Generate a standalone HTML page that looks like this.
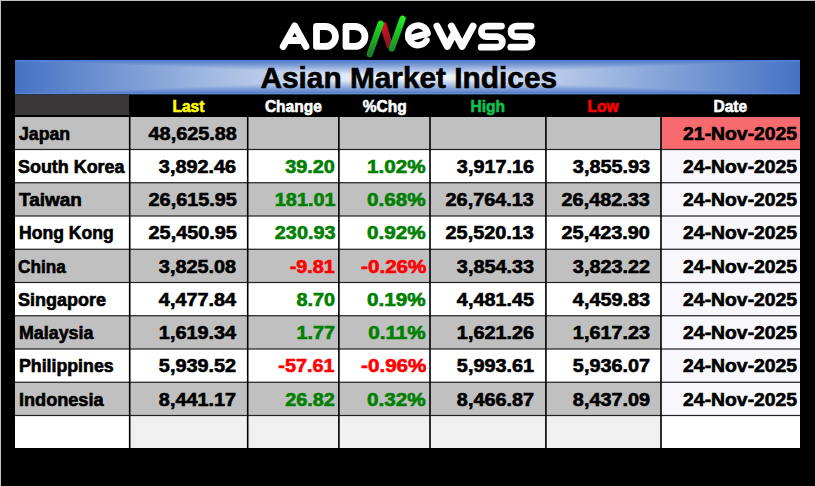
<!DOCTYPE html>
<html><head><meta charset="utf-8">
<style>
html,body{margin:0;padding:0;}
body{width:815px;height:486px;background:#000;position:relative;overflow:hidden;font-family:"Liberation Sans",sans-serif;font-weight:bold;}
svg{position:absolute;left:0;top:0;}
.t{position:absolute;white-space:nowrap;line-height:1;-webkit-text-stroke:0.6px currentColor;}
.ctr{text-align:center;}
.edge-t{position:absolute;left:0;top:0;width:815px;height:1px;background:#c0c0c0;}
.edge-l{position:absolute;left:0;top:0;width:1px;height:486px;background:#c0c0c0;}
</style></head>
<body>
<svg width="815" height="486" viewBox="0 0 815 486">
<defs>
<linearGradient id="gh" x1="15" y1="0" x2="800" y2="0" gradientUnits="userSpaceOnUse"><stop offset="0" stop-color="#4472c4"/><stop offset="0.5" stop-color="#ffffff"/><stop offset="1" stop-color="#4472c4"/></linearGradient>
<linearGradient id="gl" x1="15" y1="0" x2="407.5" y2="0" gradientUnits="userSpaceOnUse"><stop offset="0" stop-color="#4472c4"/><stop offset="1" stop-color="#ffffff"/></linearGradient>
<linearGradient id="gr" x1="800" y1="0" x2="407.5" y2="0" gradientUnits="userSpaceOnUse"><stop offset="0" stop-color="#4472c4"/><stop offset="1" stop-color="#ffffff"/></linearGradient>
<linearGradient id="gt" x1="0" y1="60" x2="0" y2="77.25" gradientUnits="userSpaceOnUse"><stop offset="0" stop-color="#4472c4"/><stop offset="1" stop-color="#ffffff"/></linearGradient>
<linearGradient id="gb" x1="0" y1="94.5" x2="0" y2="77.25" gradientUnits="userSpaceOnUse"><stop offset="0" stop-color="#4472c4"/><stop offset="1" stop-color="#ffffff"/></linearGradient>
<linearGradient id="ng" x1="0" y1="17" x2="0" y2="56" gradientUnits="userSpaceOnUse"><stop offset="0" stop-color="#22ee22"/><stop offset="1" stop-color="#1a7a2a"/></linearGradient>
<linearGradient id="nr" x1="0" y1="22" x2="0" y2="50" gradientUnits="userSpaceOnUse"><stop offset="0" stop-color="#e8102a"/><stop offset="1" stop-color="#6a1a20"/></linearGradient>
</defs>
<rect x="15" y="60" width="785" height="34.5" fill="url(#gh)"/>
<polygon points="15,60 800,60 407.5,77.25" fill="url(#gt)"/>
<polygon points="15,94.5 800,94.5 407.5,77.25" fill="url(#gb)"/>
<rect x="15" y="60.6" width="785" height="0.9" fill="#6a9af0" opacity="0.55"/>
<rect x="15" y="92.9" width="785" height="0.9" fill="#6a9af0" opacity="0.55"/>
<rect x="15" y="94.5" width="785" height="22.5" fill="#000"/>
<rect x="15" y="94.5" width="114.1" height="20.5" fill="#3a3838"/>
<rect x="15" y="117.0" width="114.69999999999999" height="32.5" fill="#c0c0c0"/>
<rect x="129.7" y="117.0" width="118.0" height="32.5" fill="#c0c0c0"/>
<rect x="247.7" y="117.0" width="91.19999999999999" height="32.5" fill="#c0c0c0"/>
<rect x="338.9" y="117.0" width="91.10000000000002" height="32.5" fill="#c0c0c0"/>
<rect x="430.0" y="117.0" width="115.89999999999998" height="32.5" fill="#c0c0c0"/>
<rect x="545.9" y="117.0" width="115.10000000000002" height="32.5" fill="#c0c0c0"/>
<rect x="661.0" y="117.0" width="139.0" height="32.5" fill="#f76b6f"/>
<rect x="15" y="149.5" width="114.69999999999999" height="33.25" fill="#ffffff"/>
<rect x="129.7" y="149.5" width="118.0" height="33.25" fill="#ffffff"/>
<rect x="247.7" y="149.5" width="91.19999999999999" height="33.25" fill="#ffffff"/>
<rect x="338.9" y="149.5" width="91.10000000000002" height="33.25" fill="#ffffff"/>
<rect x="430.0" y="149.5" width="115.89999999999998" height="33.25" fill="#ffffff"/>
<rect x="545.9" y="149.5" width="115.10000000000002" height="33.25" fill="#ffffff"/>
<rect x="661.0" y="149.5" width="139.0" height="33.25" fill="#f8f8fc"/>
<rect x="15" y="182.75" width="114.69999999999999" height="33.25" fill="#c0c0c0"/>
<rect x="129.7" y="182.75" width="118.0" height="33.25" fill="#c0c0c0"/>
<rect x="247.7" y="182.75" width="91.19999999999999" height="33.25" fill="#c0c0c0"/>
<rect x="338.9" y="182.75" width="91.10000000000002" height="33.25" fill="#c0c0c0"/>
<rect x="430.0" y="182.75" width="115.89999999999998" height="33.25" fill="#c0c0c0"/>
<rect x="545.9" y="182.75" width="115.10000000000002" height="33.25" fill="#c0c0c0"/>
<rect x="661.0" y="182.75" width="139.0" height="33.25" fill="#f8f8fc"/>
<rect x="15" y="216.0" width="114.69999999999999" height="33.25" fill="#ffffff"/>
<rect x="129.7" y="216.0" width="118.0" height="33.25" fill="#ffffff"/>
<rect x="247.7" y="216.0" width="91.19999999999999" height="33.25" fill="#ffffff"/>
<rect x="338.9" y="216.0" width="91.10000000000002" height="33.25" fill="#ffffff"/>
<rect x="430.0" y="216.0" width="115.89999999999998" height="33.25" fill="#ffffff"/>
<rect x="545.9" y="216.0" width="115.10000000000002" height="33.25" fill="#ffffff"/>
<rect x="661.0" y="216.0" width="139.0" height="33.25" fill="#f8f8fc"/>
<rect x="15" y="249.25" width="114.69999999999999" height="33.25" fill="#c0c0c0"/>
<rect x="129.7" y="249.25" width="118.0" height="33.25" fill="#c0c0c0"/>
<rect x="247.7" y="249.25" width="91.19999999999999" height="33.25" fill="#c0c0c0"/>
<rect x="338.9" y="249.25" width="91.10000000000002" height="33.25" fill="#c0c0c0"/>
<rect x="430.0" y="249.25" width="115.89999999999998" height="33.25" fill="#c0c0c0"/>
<rect x="545.9" y="249.25" width="115.10000000000002" height="33.25" fill="#c0c0c0"/>
<rect x="661.0" y="249.25" width="139.0" height="33.25" fill="#f8f8fc"/>
<rect x="15" y="282.5" width="114.69999999999999" height="33.25" fill="#ffffff"/>
<rect x="129.7" y="282.5" width="118.0" height="33.25" fill="#ffffff"/>
<rect x="247.7" y="282.5" width="91.19999999999999" height="33.25" fill="#ffffff"/>
<rect x="338.9" y="282.5" width="91.10000000000002" height="33.25" fill="#ffffff"/>
<rect x="430.0" y="282.5" width="115.89999999999998" height="33.25" fill="#ffffff"/>
<rect x="545.9" y="282.5" width="115.10000000000002" height="33.25" fill="#ffffff"/>
<rect x="661.0" y="282.5" width="139.0" height="33.25" fill="#f8f8fc"/>
<rect x="15" y="315.75" width="114.69999999999999" height="33.25" fill="#c0c0c0"/>
<rect x="129.7" y="315.75" width="118.0" height="33.25" fill="#c0c0c0"/>
<rect x="247.7" y="315.75" width="91.19999999999999" height="33.25" fill="#c0c0c0"/>
<rect x="338.9" y="315.75" width="91.10000000000002" height="33.25" fill="#c0c0c0"/>
<rect x="430.0" y="315.75" width="115.89999999999998" height="33.25" fill="#c0c0c0"/>
<rect x="545.9" y="315.75" width="115.10000000000002" height="33.25" fill="#c0c0c0"/>
<rect x="661.0" y="315.75" width="139.0" height="33.25" fill="#f8f8fc"/>
<rect x="15" y="349.0" width="114.69999999999999" height="33.25" fill="#ffffff"/>
<rect x="129.7" y="349.0" width="118.0" height="33.25" fill="#ffffff"/>
<rect x="247.7" y="349.0" width="91.19999999999999" height="33.25" fill="#ffffff"/>
<rect x="338.9" y="349.0" width="91.10000000000002" height="33.25" fill="#ffffff"/>
<rect x="430.0" y="349.0" width="115.89999999999998" height="33.25" fill="#ffffff"/>
<rect x="545.9" y="349.0" width="115.10000000000002" height="33.25" fill="#ffffff"/>
<rect x="661.0" y="349.0" width="139.0" height="33.25" fill="#f8f8fc"/>
<rect x="15" y="382.25" width="114.69999999999999" height="33.25" fill="#c0c0c0"/>
<rect x="129.7" y="382.25" width="118.0" height="33.25" fill="#c0c0c0"/>
<rect x="247.7" y="382.25" width="91.19999999999999" height="33.25" fill="#c0c0c0"/>
<rect x="338.9" y="382.25" width="91.10000000000002" height="33.25" fill="#c0c0c0"/>
<rect x="430.0" y="382.25" width="115.89999999999998" height="33.25" fill="#c0c0c0"/>
<rect x="545.9" y="382.25" width="115.10000000000002" height="33.25" fill="#c0c0c0"/>
<rect x="661.0" y="382.25" width="139.0" height="33.25" fill="#f8f8fc"/>
<rect x="15" y="415.5" width="114.69999999999999" height="32.5" fill="#ffffff"/>
<rect x="129.7" y="415.5" width="118.0" height="32.5" fill="#f0f0f0"/>
<rect x="247.7" y="415.5" width="91.19999999999999" height="32.5" fill="#f0f0f0"/>
<rect x="338.9" y="415.5" width="91.10000000000002" height="32.5" fill="#f0f0f0"/>
<rect x="430.0" y="415.5" width="115.89999999999998" height="32.5" fill="#f0f0f0"/>
<rect x="545.9" y="415.5" width="115.10000000000002" height="32.5" fill="#f0f0f0"/>
<rect x="661.0" y="415.5" width="139.0" height="32.5" fill="#ffffff"/>
<rect x="15" y="148.9" width="785" height="1.2" fill="#222"/>
<rect x="15" y="182.15" width="785" height="1.2" fill="#222"/>
<rect x="15" y="215.4" width="785" height="1.2" fill="#222"/>
<rect x="15" y="248.65" width="785" height="1.2" fill="#222"/>
<rect x="15" y="281.9" width="785" height="1.2" fill="#222"/>
<rect x="15" y="315.15" width="785" height="1.2" fill="#222"/>
<rect x="15" y="348.4" width="785" height="1.2" fill="#222"/>
<rect x="15" y="381.65" width="785" height="1.2" fill="#222"/>
<rect x="15" y="414.9" width="785" height="1.2" fill="#222"/>
<rect x="128.89999999999998" y="115" width="1.6" height="333" fill="#000"/>
<rect x="246.89999999999998" y="115" width="1.6" height="333" fill="#000"/>
<rect x="338.09999999999997" y="115" width="1.6" height="333" fill="#000"/>
<rect x="429.2" y="115" width="1.6" height="333" fill="#000"/>
<rect x="545.1" y="115" width="1.6" height="333" fill="#000"/>
<rect x="660.2" y="115" width="1.6" height="333" fill="#000"/>
<path d="M283.2,46.5 L294.7,25.9 L306,46.5 M288.5,40.5 H300.5" fill="none" stroke="#ffffff" stroke-width="6.8" stroke-linecap="round" stroke-linejoin="round"/>
<path d="M316.5,26.5 H325.5 A9.95,9.95 0 0 1 325.5,46.4 H316.5 Z" fill="none" stroke="#ffffff" stroke-width="6.8" stroke-linejoin="round"/>
<path d="M346.0,26.5 H355.0 A9.95,9.95 0 0 1 355.0,46.4 H346.0 Z" fill="none" stroke="#ffffff" stroke-width="6.8" stroke-linejoin="round"/>
<path d="M382.6,23 L390.2,47.5" fill="none" stroke="url(#nr)" stroke-width="6.8"/>
<path d="M369.7,54.2 L380.6,23.7 M391.8,48.5 L402.6,18.7" fill="none" stroke="url(#ng)" stroke-width="6.3" stroke-linecap="round"/>
<path d="M408.3,38.6 L427.7,33.4 A9.9,9.9 0 1 0 426.6,40.3" fill="none" stroke="#ffffff" stroke-width="6.3" stroke-linecap="round" stroke-linejoin="round"/>
<path d="M437,26.2 L447.3,46.4 L454.5,32.5 M451.5,26.2 L462.1,46.4 L473,26.2" fill="none" stroke="#ffffff" stroke-width="7.1" stroke-linecap="round" stroke-linejoin="round"/>
<path d="M501.5,26.1 H486.7 A5.3,5.3 0 0 0 486.7,36.7 H497.1 A5.25,5.25 0 0 1 497.1,47.2 H481.2" fill="none" stroke="#ffffff" stroke-width="6.8" stroke-linecap="round" stroke-linejoin="round"/>
<path d="M531.1,26.1 H516.3 A5.3,5.3 0 0 0 516.3,36.7 H526.7 A5.25,5.25 0 0 1 526.7,47.2 H510.8" fill="none" stroke="#ffffff" stroke-width="6.8" stroke-linecap="round" stroke-linejoin="round"/>
</svg>
<div class="t ctr" style="left:15px;width:785px;top:64px;font-size:29px;color:#000"><span style="display:inline-block;transform:translateX(1.5px) scaleX(1.028)">Asian Market Indices</span></div>
<div class="t ctr" style="left:129.7px;width:118.0px;top:99px;font-size:16px;color:#ffff00"><span style="display:inline-block;transform:scaleX(0.97)">Last</span></div>
<div class="t ctr" style="left:247.7px;width:91.19999999999999px;top:99px;font-size:16px;color:#ffffff"><span style="display:inline-block;transform:scaleX(0.97)">Change</span></div>
<div class="t ctr" style="left:338.9px;width:91.10000000000002px;top:99px;font-size:16px;color:#ffffff"><span style="display:inline-block;transform:scaleX(0.97)">%Chg</span></div>
<div class="t ctr" style="left:430.0px;width:115.89999999999998px;top:99px;font-size:16px;color:#12c052"><span style="display:inline-block;transform:scaleX(0.97)">High</span></div>
<div class="t ctr" style="left:545.9px;width:115.10000000000002px;top:99px;font-size:16px;color:#ff0000"><span style="display:inline-block;transform:scaleX(0.97)">Low</span></div>
<div class="t ctr" style="left:661.0px;width:139.0px;top:99px;font-size:16px;color:#ffffff"><span style="display:inline-block;transform:scaleX(0.97)">Date</span></div>
<div class="t" style="left:18.60px;transform-origin:0 0;top:126px;font-size:17.5px;color:#000;transform:scaleX(1.0104)">Japan</div>
<div class="t" style="right:578.60px;transform-origin:100% 0;top:126px;font-size:17.5px;color:#000;transform:scaleX(1.1340)">48,625.88</div>
<div class="t" style="right:18.30px;transform-origin:100% 0;top:126px;font-size:17.5px;color:#000;transform:scaleX(1.1056)">21-Nov-2025</div>
<div class="t" style="left:18.30px;transform-origin:0 0;top:159px;font-size:17.5px;color:#000;transform:scaleX(1.0238)">South Korea</div>
<div class="t" style="right:578.60px;transform-origin:100% 0;top:159px;font-size:17.5px;color:#000;transform:scaleX(1.1340)">3,892.46</div>
<div class="t" style="right:479.90px;transform-origin:100% 0;top:159px;font-size:17.5px;color:#008000;transform:scaleX(1.1340)">39.20</div>
<div class="t" style="right:389.00px;transform-origin:100% 0;top:159px;font-size:17.5px;color:#008000;transform:scaleX(1.1794)">1.02%</div>
<div class="t" style="right:281.10px;transform-origin:100% 0;top:159px;font-size:17.5px;color:#000;transform:scaleX(1.1340)">3,917.16</div>
<div class="t" style="right:165.30px;transform-origin:100% 0;top:159px;font-size:17.5px;color:#000;transform:scaleX(1.1340)">3,855.93</div>
<div class="t" style="right:18.30px;transform-origin:100% 0;top:159px;font-size:17.5px;color:#000;transform:scaleX(1.1056)">24-Nov-2025</div>
<div class="t" style="left:18.60px;transform-origin:0 0;top:192px;font-size:17.5px;color:#000;transform:scaleX(1.0815)">Taiwan</div>
<div class="t" style="right:578.60px;transform-origin:100% 0;top:192px;font-size:17.5px;color:#000;transform:scaleX(1.1340)">26,615.95</div>
<div class="t" style="right:479.90px;transform-origin:100% 0;top:192px;font-size:17.5px;color:#008000;transform:scaleX(1.1340)">181.01</div>
<div class="t" style="right:389.00px;transform-origin:100% 0;top:192px;font-size:17.5px;color:#008000;transform:scaleX(1.1794)">0.68%</div>
<div class="t" style="right:281.10px;transform-origin:100% 0;top:192px;font-size:17.5px;color:#000;transform:scaleX(1.1340)">26,764.13</div>
<div class="t" style="right:165.30px;transform-origin:100% 0;top:192px;font-size:17.5px;color:#000;transform:scaleX(1.1340)">26,482.33</div>
<div class="t" style="right:18.30px;transform-origin:100% 0;top:192px;font-size:17.5px;color:#000;transform:scaleX(1.1056)">24-Nov-2025</div>
<div class="t" style="left:19.00px;transform-origin:0 0;top:225px;font-size:17.5px;color:#000;transform:scaleX(1.0043)">Hong Kong</div>
<div class="t" style="right:578.60px;transform-origin:100% 0;top:225px;font-size:17.5px;color:#000;transform:scaleX(1.1340)">25,450.95</div>
<div class="t" style="right:479.90px;transform-origin:100% 0;top:225px;font-size:17.5px;color:#008000;transform:scaleX(1.1340)">230.93</div>
<div class="t" style="right:389.00px;transform-origin:100% 0;top:225px;font-size:17.5px;color:#008000;transform:scaleX(1.1794)">0.92%</div>
<div class="t" style="right:281.10px;transform-origin:100% 0;top:225px;font-size:17.5px;color:#000;transform:scaleX(1.1340)">25,520.13</div>
<div class="t" style="right:165.30px;transform-origin:100% 0;top:225px;font-size:17.5px;color:#000;transform:scaleX(1.1340)">25,423.90</div>
<div class="t" style="right:18.30px;transform-origin:100% 0;top:225px;font-size:17.5px;color:#000;transform:scaleX(1.1056)">24-Nov-2025</div>
<div class="t" style="left:18.30px;transform-origin:0 0;top:259px;font-size:17.5px;color:#000;transform:scaleX(0.9816)">China</div>
<div class="t" style="right:578.60px;transform-origin:100% 0;top:259px;font-size:17.5px;color:#000;transform:scaleX(1.1340)">3,825.08</div>
<div class="t" style="right:479.90px;transform-origin:100% 0;top:259px;font-size:17.5px;color:#ff0000;transform:scaleX(1.1340)">-9.81</div>
<div class="t" style="right:389.00px;transform-origin:100% 0;top:259px;font-size:17.5px;color:#ff0000;transform:scaleX(1.1794)">-0.26%</div>
<div class="t" style="right:281.10px;transform-origin:100% 0;top:259px;font-size:17.5px;color:#000;transform:scaleX(1.1340)">3,854.33</div>
<div class="t" style="right:165.30px;transform-origin:100% 0;top:259px;font-size:17.5px;color:#000;transform:scaleX(1.1340)">3,823.22</div>
<div class="t" style="right:18.30px;transform-origin:100% 0;top:259px;font-size:17.5px;color:#000;transform:scaleX(1.1056)">24-Nov-2025</div>
<div class="t" style="left:18.30px;transform-origin:0 0;top:292px;font-size:17.5px;color:#000;transform:scaleX(1.0269)">Singapore</div>
<div class="t" style="right:578.60px;transform-origin:100% 0;top:292px;font-size:17.5px;color:#000;transform:scaleX(1.1340)">4,477.84</div>
<div class="t" style="right:479.90px;transform-origin:100% 0;top:292px;font-size:17.5px;color:#008000;transform:scaleX(1.1340)">8.70</div>
<div class="t" style="right:389.00px;transform-origin:100% 0;top:292px;font-size:17.5px;color:#008000;transform:scaleX(1.1794)">0.19%</div>
<div class="t" style="right:281.10px;transform-origin:100% 0;top:292px;font-size:17.5px;color:#000;transform:scaleX(1.1340)">4,481.45</div>
<div class="t" style="right:165.30px;transform-origin:100% 0;top:292px;font-size:17.5px;color:#000;transform:scaleX(1.1340)">4,459.83</div>
<div class="t" style="right:18.30px;transform-origin:100% 0;top:292px;font-size:17.5px;color:#000;transform:scaleX(1.1056)">24-Nov-2025</div>
<div class="t" style="left:18.80px;transform-origin:0 0;top:325px;font-size:17.5px;color:#000;transform:scaleX(1.0197)">Malaysia</div>
<div class="t" style="right:578.60px;transform-origin:100% 0;top:325px;font-size:17.5px;color:#000;transform:scaleX(1.1340)">1,619.34</div>
<div class="t" style="right:479.90px;transform-origin:100% 0;top:325px;font-size:17.5px;color:#008000;transform:scaleX(1.1340)">1.77</div>
<div class="t" style="right:389.00px;transform-origin:100% 0;top:325px;font-size:17.5px;color:#008000;transform:scaleX(1.1794)">0.11%</div>
<div class="t" style="right:281.10px;transform-origin:100% 0;top:325px;font-size:17.5px;color:#000;transform:scaleX(1.1340)">1,621.26</div>
<div class="t" style="right:165.30px;transform-origin:100% 0;top:325px;font-size:17.5px;color:#000;transform:scaleX(1.1340)">1,617.23</div>
<div class="t" style="right:18.30px;transform-origin:100% 0;top:325px;font-size:17.5px;color:#000;transform:scaleX(1.1056)">24-Nov-2025</div>
<div class="t" style="left:19.00px;transform-origin:0 0;top:358px;font-size:17.5px;color:#000;transform:scaleX(1.0135)">Philippines</div>
<div class="t" style="right:578.60px;transform-origin:100% 0;top:358px;font-size:17.5px;color:#000;transform:scaleX(1.1340)">5,939.52</div>
<div class="t" style="right:479.90px;transform-origin:100% 0;top:358px;font-size:17.5px;color:#ff0000;transform:scaleX(1.1340)">-57.61</div>
<div class="t" style="right:389.00px;transform-origin:100% 0;top:358px;font-size:17.5px;color:#ff0000;transform:scaleX(1.1794)">-0.96%</div>
<div class="t" style="right:281.10px;transform-origin:100% 0;top:358px;font-size:17.5px;color:#000;transform:scaleX(1.1340)">5,993.61</div>
<div class="t" style="right:165.30px;transform-origin:100% 0;top:358px;font-size:17.5px;color:#000;transform:scaleX(1.1340)">5,936.07</div>
<div class="t" style="right:18.30px;transform-origin:100% 0;top:358px;font-size:17.5px;color:#000;transform:scaleX(1.1056)">24-Nov-2025</div>
<div class="t" style="left:19.00px;transform-origin:0 0;top:392px;font-size:17.5px;color:#000;transform:scaleX(1.0352)">Indonesia</div>
<div class="t" style="right:578.60px;transform-origin:100% 0;top:392px;font-size:17.5px;color:#000;transform:scaleX(1.1340)">8,441.17</div>
<div class="t" style="right:479.90px;transform-origin:100% 0;top:392px;font-size:17.5px;color:#008000;transform:scaleX(1.1340)">26.82</div>
<div class="t" style="right:389.00px;transform-origin:100% 0;top:392px;font-size:17.5px;color:#008000;transform:scaleX(1.1794)">0.32%</div>
<div class="t" style="right:281.10px;transform-origin:100% 0;top:392px;font-size:17.5px;color:#000;transform:scaleX(1.1340)">8,466.87</div>
<div class="t" style="right:165.30px;transform-origin:100% 0;top:392px;font-size:17.5px;color:#000;transform:scaleX(1.1340)">8,437.09</div>
<div class="t" style="right:18.30px;transform-origin:100% 0;top:392px;font-size:17.5px;color:#000;transform:scaleX(1.1056)">24-Nov-2025</div>
<div class="edge-t"></div><div class="edge-l"></div>
</body></html>
